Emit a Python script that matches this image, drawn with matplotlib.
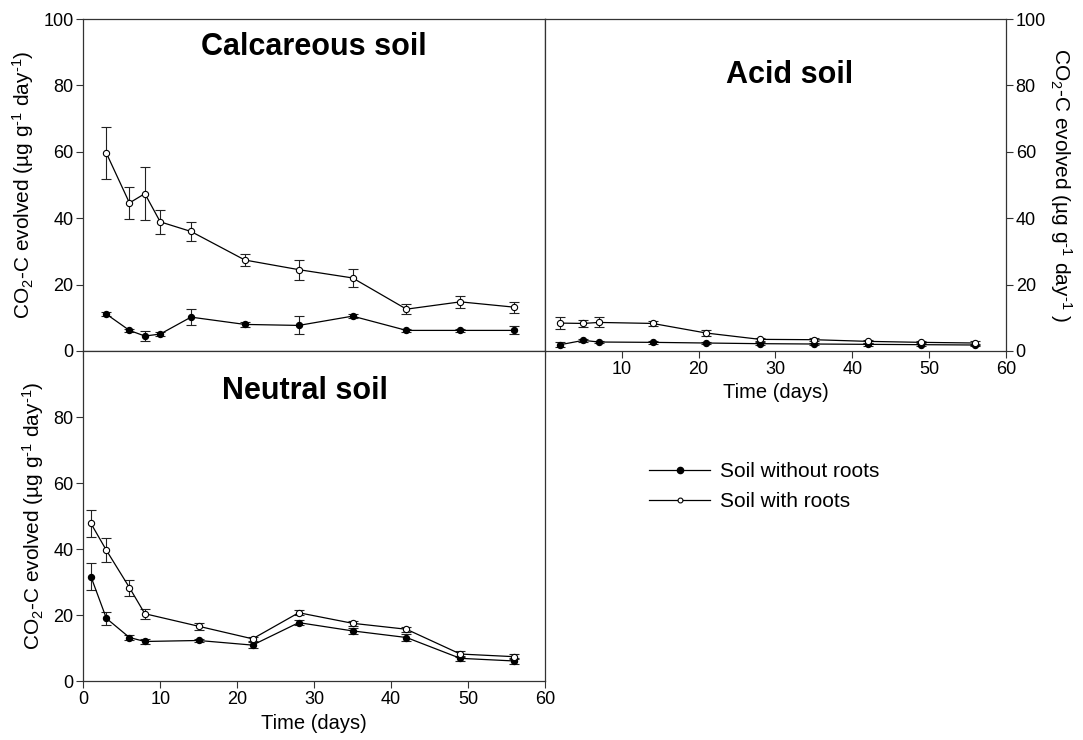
import matplotlib.pyplot as plt
from matplotlib.lines import Line2D

plt.rcParams['font.family'] = ['Liberation Sans', 'DejaVu Sans']
plt.rcParams['mathtext.fontset'] = 'custom'
plt.rcParams['mathtext.rm'] = 'Liberation Sans'
plt.rcParams['mathtext.it'] = 'Liberation Sans:italic'
plt.rcParams['mathtext.bf'] = 'Liberation Sans:bold'

# Calcareous soil
calc_days = [3, 6, 8, 10, 14, 21, 28, 35, 42, 49, 56]
calc_roots = [59.6, 44.6, 47.4, 38.9, 36.0, 27.4, 24.5, 22.0, 12.6, 14.8, 13.2]
calc_roots_err = [7.9, 4.7, 8.0, 3.7, 3.0, 1.9, 3.0, 2.8, 1.5, 1.8, 1.7]
calc_noroots = [11.1, 6.2, 4.5, 5.1, 10.2, 8.0, 7.7, 10.5, 6.2, 6.2, 6.2]
calc_noroots_err = [0.5, 0.5, 1.4, 0.5, 2.4, 0.7, 2.7, 0.7, 0.5, 0.5, 1.2]

# Acid soil
acid_days = [2, 5, 7, 14, 21, 28, 35, 42, 49, 56]
acid_roots = [8.4, 8.3, 8.6, 8.3, 5.4, 3.5, 3.4, 2.9, 2.6, 2.4]
acid_roots_err = [1.7, 1.0, 1.5, 0.8, 0.8, 0.5, 0.5, 0.5, 0.5, 0.5]
acid_noroots = [1.9, 3.2, 2.7, 2.6, 2.4, 2.2, 2.1, 2.0, 1.9, 1.8]
acid_noroots_err = [0.8, 0.5, 0.4, 0.4, 0.4, 0.4, 0.4, 0.4, 0.4, 0.4]

# Neutral soil
neut_days = [1, 3, 6, 8, 15, 22, 28, 35, 42, 49, 56]
neut_roots = [47.8, 39.7, 28.4, 20.5, 16.7, 12.9, 20.8, 17.6, 15.8, 8.3, 7.5]
neut_roots_err = [4.0, 3.6, 2.4, 1.5, 1.0, 0.7, 0.8, 0.8, 0.8, 0.8, 0.7]
neut_noroots = [31.7, 19.1, 13.3, 12.1, 12.4, 11.0, 17.8, 15.3, 13.3, 7.0, 6.2]
neut_noroots_err = [4.1, 2.0, 0.7, 0.7, 0.5, 1.0, 0.8, 1.0, 1.0, 0.8, 1.0]

ylab = r'CO$_2$-C evolved (µg g$^{\text{-}1}$ day$^{\text{-}1}$)'
ylab_r = r'CO$_2$-C evolved (µg g$^{\text{-}1}$ day$^{\text{-}1}$ )'
spine_c = '#333333'

fig = plt.figure(figsize=(10.83, 7.4), dpi=100)
ax_c = fig.add_axes([0.0769, 0.5257, 0.4263, 0.4486])
ax_a = fig.add_axes([0.5032, 0.5257, 0.4257, 0.4486])
ax_n = fig.add_axes([0.0769, 0.0791, 0.4263, 0.4466])


def draw(ax, days, noroots, noroots_err, roots, roots_err):
    kw = dict(color='black', lw=0.9, ecolor='#222222', elinewidth=0.8,
              capsize=3.5, capthick=0.8)
    h1 = ax.errorbar(days, noroots, yerr=noroots_err, fmt='-o', ms=4.3,
                     mfc='black', mec='black', **kw)
    h2 = ax.errorbar(days, roots, yerr=roots_err, fmt='-o', ms=4.5,
                     mfc='white', mec='black', mew=0.8, **kw)
    ax.set_xlim(0, 60)
    ax.set_ylim(0, 100)
    ax.set_xticks(range(0, 61, 10))
    ax.set_yticks(range(0, 101, 20))
    for s in ax.spines.values():
        s.set_color(spine_c)
        s.set_linewidth(0.9)
    ax.tick_params(direction='out', length=5, width=0.8, color=spine_c,
                   labelsize=13, pad=2)
    return h1, h2


draw(ax_c, calc_days, calc_noroots, calc_noroots_err, calc_roots, calc_roots_err)
draw(ax_a, acid_days, acid_noroots, acid_noroots_err, acid_roots, acid_roots_err)
draw(ax_n, neut_days, neut_noroots, neut_noroots_err, neut_roots, neut_roots_err)

# calcareous: labels on left only
ax_c.tick_params(axis='x', labelbottom=False)
ax_c.set_ylabel(ylab, fontsize=15, labelpad=5)

# acid: y axis on right, x labels from 10
ax_a.yaxis.tick_right()
ax_a.yaxis.set_label_position('right')
ax_a.set_xticks(range(10, 61, 10))
ax_a.set_ylabel(ylab_r, fontsize=15, rotation=270, labelpad=20)
ax_a.set_xlabel('Time (days)', fontsize=14.5, labelpad=4)

# neutral: hide 100 label
ax_n.set_yticks(range(0, 81, 20))
ax_n.set_ylabel(ylab, fontsize=15, labelpad=5)
ax_n.set_xlabel('Time (days)', fontsize=14.5, labelpad=4)

ax_c.text(0.5, 0.915, 'Calcareous soil', transform=ax_c.transAxes,
          ha='center', va='center', fontsize=22, fontweight='bold')
ax_a.text(0.53, 0.83, 'Acid soil', transform=ax_a.transAxes,
          ha='center', va='center', fontsize=22, fontweight='bold')
ax_n.text(0.48, 0.88, 'Neutral soil', transform=ax_n.transAxes,
          ha='center', va='center', fontsize=22, fontweight='bold')

handles = [Line2D([], [], color='black', lw=0.9, marker='o', ms=4.5, mfc='black', mec='black'),
           Line2D([], [], color='black', lw=0.9, marker='o', ms=3.5, mfc='white', mec='black', mew=0.8)]
fig.legend(handles, ['Soil without roots', 'Soil with roots'],
           loc='upper left', bbox_to_anchor=(0.592, 0.387), frameon=False,
           fontsize=15, handlelength=2.9, handletextpad=0.5, labelspacing=0.55,
           borderaxespad=0)

fig.savefig('out.png', dpi=100)
